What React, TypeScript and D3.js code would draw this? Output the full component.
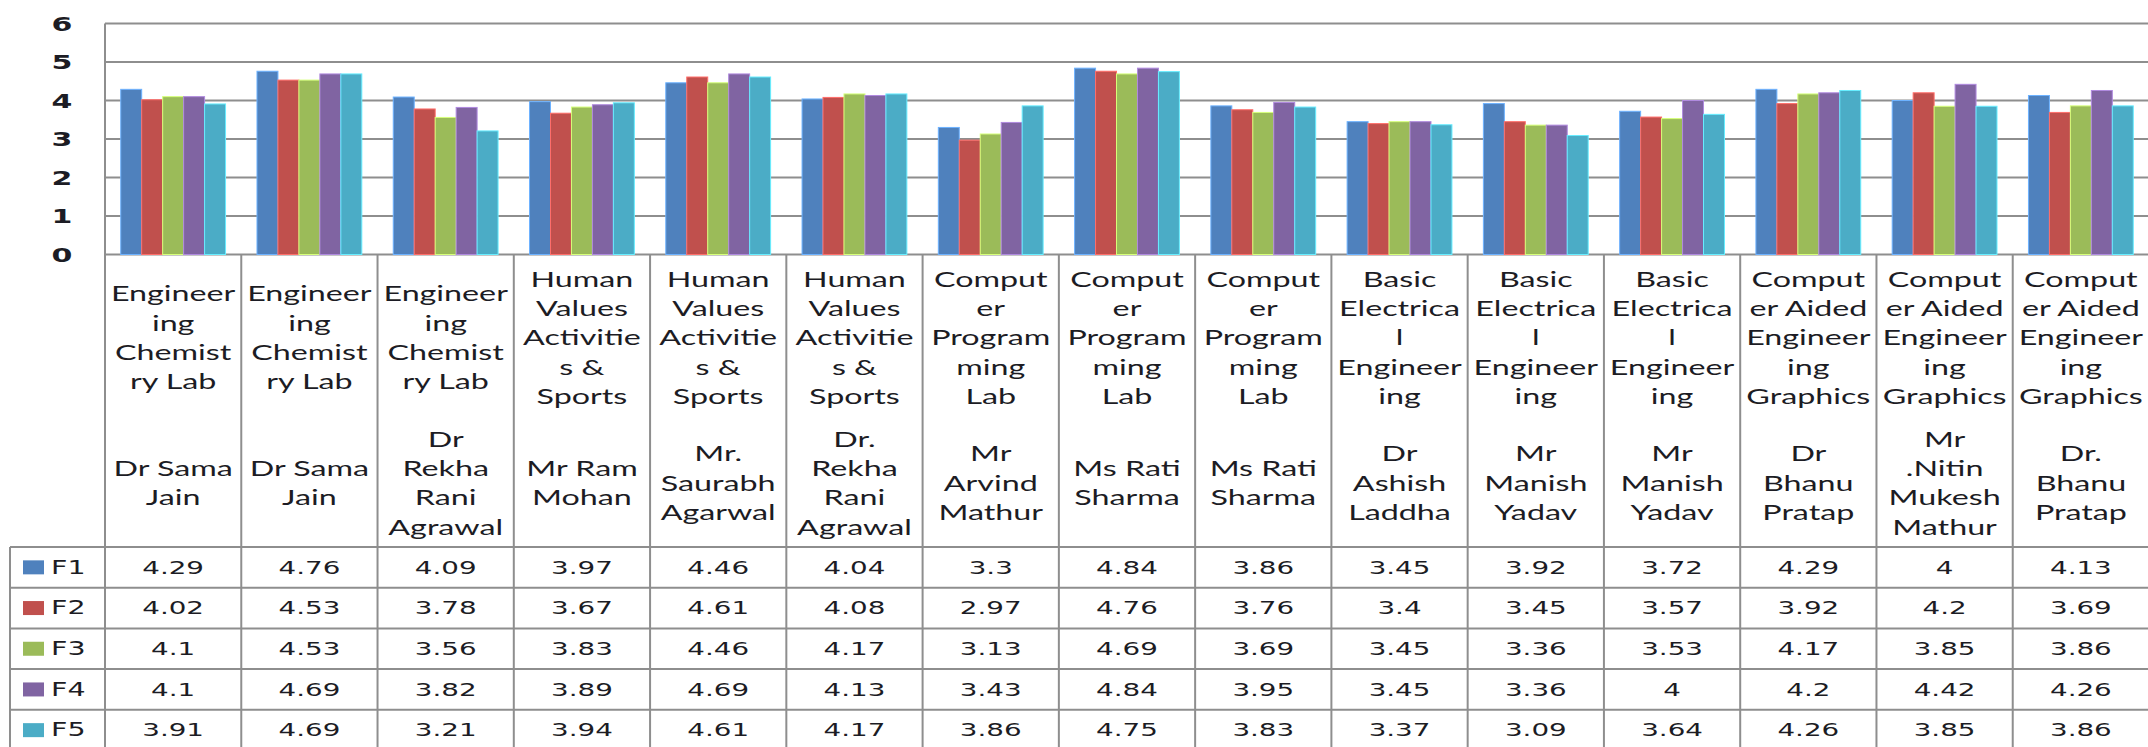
import React from 'react';
import * as d3 from 'd3';

// course titles, already wrapped the way the table cells wrap them
const courseLines: string[][] = [
  ['Engineer', 'ing', 'Chemist', 'ry Lab'],
  ['Engineer', 'ing', 'Chemist', 'ry Lab'],
  ['Engineer', 'ing', 'Chemist', 'ry Lab'],
  ['Human', 'Values', 'Activitie', 's &', 'Sports'],
  ['Human', 'Values', 'Activitie', 's &', 'Sports'],
  ['Human', 'Values', 'Activitie', 's &', 'Sports'],
  ['Comput', 'er', 'Program', 'ming', 'Lab'],
  ['Comput', 'er', 'Program', 'ming', 'Lab'],
  ['Comput', 'er', 'Program', 'ming', 'Lab'],
  ['Basic', 'Electrica', 'l', 'Engineer', 'ing'],
  ['Basic', 'Electrica', 'l', 'Engineer', 'ing'],
  ['Basic', 'Electrica', 'l', 'Engineer', 'ing'],
  ['Comput', 'er Aided', 'Engineer', 'ing', 'Graphics'],
  ['Comput', 'er Aided', 'Engineer', 'ing', 'Graphics'],
  ['Comput', 'er Aided', 'Engineer', 'ing', 'Graphics'],
];

const facultyLines: string[][] = [
  ['Dr Sama', 'Jain'],
  ['Dr Sama', 'Jain'],
  ['Dr', 'Rekha', 'Rani', 'Agrawal'],
  ['Mr Ram', 'Mohan'],
  ['Mr.', 'Saurabh', 'Agarwal'],
  ['Dr.', 'Rekha', 'Rani', 'Agrawal'],
  ['Mr', 'Arvind', 'Mathur'],
  ['Ms Rati', 'Sharma'],
  ['Ms Rati', 'Sharma'],
  ['Dr', 'Ashish', 'Laddha'],
  ['Mr', 'Manish', 'Yadav'],
  ['Mr', 'Manish', 'Yadav'],
  ['Dr', 'Bhanu', 'Pratap'],
  ['Mr', '.Nitin', 'Mukesh', 'Mathur'],
  ['Dr.', 'Bhanu', 'Pratap'],
];

const seriesNames = ['F1', 'F2', 'F3', 'F4', 'F5'];
const f1 = [4.29, 4.76, 4.09, 3.97, 4.46, 4.04, 3.3, 4.84, 3.86, 3.45, 3.92, 3.72, 4.29, 4, 4.13];
const f2 = [4.02, 4.53, 3.78, 3.67, 4.61, 4.08, 2.97, 4.76, 3.76, 3.4, 3.45, 3.57, 3.92, 4.2, 3.69];
const f3 = [4.1, 4.53, 3.56, 3.83, 4.46, 4.17, 3.13, 4.69, 3.69, 3.45, 3.36, 3.53, 4.17, 3.85, 3.86];
const f4 = [4.1, 4.69, 3.82, 3.89, 4.69, 4.13, 3.43, 4.84, 3.95, 3.45, 3.36, 4, 4.2, 4.42, 4.26];
const f5 = [3.91, 4.69, 3.21, 3.94, 4.61, 4.17, 3.86, 4.75, 3.83, 3.37, 3.09, 3.64, 4.26, 3.85, 3.86];
const seriesValues = [f1, f2, f3, f4, f5];
const yTicks = [0, 1, 2, 3, 4, 5, 6];
const colors = ['#4F81BD', '#C0504D', '#9BBB59', '#8064A2', '#4BACC6'];

const W = 2148;
const H = 747;
const plotLeft = 105;
const plotRight = 2149;
const plotTop = 23.5;
const plotBottom = 254.5;
const tableTop = 547;
const rowH = 40.7;
const legendLeft = 10;
const SX = 1.5; // the original picture is stretched sideways
const gridColor = '#8e8e8e';
const textColor = '#1c1c24';

const STxt = ({ x, y, children, size, family, weight = 400, anchor = 'middle' }: any) => (
  <text
    transform={`translate(${x},${y}) scale(${SX},1)`}
    textAnchor={anchor}
    dominantBaseline="central"
    fontSize={size}
    fontFamily={family}
    fontWeight={weight}
    fill={textColor}
  >
    {children}
  </text>
);

export default function App() {
  const idx = courseLines.map((_, i) => String(i));
  const x = d3.scaleBand().domain(idx).range([plotLeft, plotRight]);
  const xs = d3.scaleBand().domain(seriesNames).range([0, x.bandwidth()]).paddingOuter(0.75);
  const y = d3.scaleLinear().domain([0, 6]).range([plotBottom, plotTop]);

  const lineH = 29.3;
  const titleMid = 337;
  const nameMid = 482.5;
  const labelFont = 'Lato, Carlito, sans-serif';
  const numFont = '"DejaVu Sans", Verdana, sans-serif';

  return (
    <svg width={W} height={H} style={{ position: 'absolute', left: 0, top: 0, background: '#fff' }}>
      <rect width={W} height={H} fill="#fff" />
      {/* gridlines */}
      {yTicks.map((t) => (
        <line key={t} x1={plotLeft} x2={plotRight} y1={y(t)} y2={y(t)} stroke={gridColor} strokeWidth={2} />
      ))}
      {yTicks.map((t) => (
        <STxt key={'yl' + t} x={62} y={y(t)} size={20} family={numFont} weight={700}>
          {t}
        </STxt>
      ))}

      {/* bars */}
      {seriesValues.map((vals, s) => (
        <g key={s}>
          {vals.map((v, i) => (
            <rect
              key={i}
              x={x(String(i))! + xs(seriesNames[s])!}
              y={y(v)}
              width={xs.bandwidth()}
              height={y(0) - y(v)}
              fill={colors[s]}
              stroke={d3.color(colors[s])!.brighter(0.9).formatHex()}
              strokeWidth={1}
            />
          ))}
        </g>
      ))}

      {/* category label cells */}
      {idx.map((k, i) => {
        const cx = x(k)! + x.bandwidth() / 2;
        const t = courseLines[i];
        const f = facultyLines[i];
        return (
          <g key={'c' + k}>
            {t.map((ln, j) => (
              <STxt key={'t' + j} x={cx} y={titleMid + (j - (t.length - 1) / 2) * lineH} size={21.5} family={labelFont}>
                {ln}
              </STxt>
            ))}
            {f.map((ln, j) => (
              <STxt key={'f' + j} x={cx} y={nameMid + (j - (f.length - 1) / 2) * lineH} size={21.5} family={labelFont}>
                {ln}
              </STxt>
            ))}
          </g>
        );
      })}

      {/* vertical cell borders */}
      <line x1={plotLeft} x2={plotLeft} y1={plotTop} y2={H} stroke={gridColor} strokeWidth={2} />
      {idx.slice(1).map((k) => (
        <line key={'v' + k} x1={x(k)!} x2={x(k)!} y1={plotBottom} y2={H} stroke={gridColor} strokeWidth={2} />
      ))}
      <line x1={legendLeft} x2={legendLeft} y1={tableTop} y2={H} stroke={gridColor} strokeWidth={2} />

      {/* data table */}
      {seriesNames.map((name, s) => {
        const top = tableTop + s * rowH;
        const mid = top + rowH / 2;
        return (
          <g key={'r' + name}>
            <line x1={legendLeft} x2={plotRight} y1={top} y2={top} stroke={gridColor} strokeWidth={2} />
            <rect x={23} y={mid - 7} width={21} height={14} fill={colors[s]} />
            <STxt x={51} y={mid} size={19} family={numFont} anchor="start">
              {name}
            </STxt>
            {seriesValues[s].map((v, i) => (
              <STxt key={i} x={x(String(i))! + x.bandwidth() / 2} y={mid} size={18.5} family={numFont}>
                {String(v)}
              </STxt>
            ))}
          </g>
        );
      })}
      <line
        x1={legendLeft}
        x2={plotRight}
        y1={tableTop + 5 * rowH}
        y2={tableTop + 5 * rowH}
        stroke={gridColor}
        strokeWidth={2}
      />
    </svg>
  );
}
